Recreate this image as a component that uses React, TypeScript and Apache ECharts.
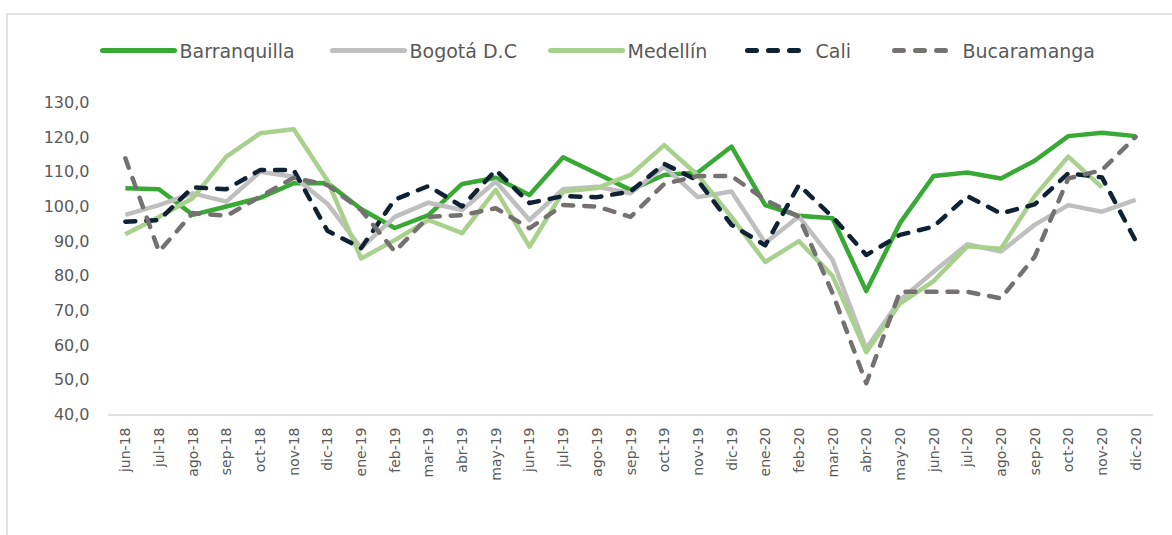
import { useEffect, useRef } from "react";
import * as echarts from "echarts";

const months = [
  "jun-18", "jul-18", "ago-18", "sep-18", "oct-18", "nov-18", "dic-18",
  "ene-19", "feb-19", "mar-19", "abr-19", "may-19", "jun-19", "jul-19",
  "ago-19", "sep-19", "oct-19", "nov-19", "dic-19", "ene-20", "feb-20",
  "mar-20", "abr-20", "may-20", "jun-20", "jul-20", "ago-20", "sep-20",
  "oct-20", "nov-20", "dic-20",
];

const barranquilla = [
  105.3, 105.0, 97.6, 100.0, 102.5, 106.7, 106.8, 99.3, 93.8, 97.5, 106.5,
  108.3, 103.3, 114.2, 109.5, 104.8, 109.1, 109.8, 117.3, 100.4, 97.3, 96.6,
  75.6, 95.2, 108.8, 109.8, 108.1, 113.2, 120.3, 121.3, 120.3,
];
const bogota = [
  97.6, 100.4, 103.8, 101.4, 110.0, 108.6, 100.8, 88.0, 97.0, 101.1, 99.0,
  107.2, 96.1, 105.0, 105.7, 103.8, 111.5, 102.7, 104.3, 89.5, 97.1, 84.6,
  59.0, 73.0, 81.2, 89.1, 87.0, 94.7, 100.4, 98.5, 101.9,
];
const medellin = [
  92.0, 97.0, 102.4, 114.4, 121.1, 122.3, 107.5, 85.0, 90.3, 96.1, 92.3,
  104.8, 88.4, 104.3, 105.3, 109.1, 117.7, 109.0, 97.0, 84.0, 90.0, 80.0,
  58.0, 72.0, 78.5, 88.5, 87.8, 103.0, 114.4, 105.5, null,
];
const cali = [
  95.6, 96.1, 105.5, 105.0, 110.5, 110.5, 93.0, 88.0, 102.0, 105.9, 100.0,
  110.5, 101.0, 103.0, 102.7, 104.3, 112.3, 107.5, 94.7, 88.8, 106.2, 97.0,
  86.0, 91.8, 94.2, 103.0, 98.0, 100.6, 109.6, 108.4, 90.1,
];
const bucaramanga = [
  113.9, 87.0, 98.1, 97.3, 102.8, 108.3, 106.2, 99.0, 87.0, 97.0, 97.5,
  99.5, 93.7, 100.4, 100.0, 97.0, 106.5, 108.8, 108.8, 101.9, 97.0, 75.0,
  49.0, 75.4, 75.4, 75.4, 73.5, 85.5, 108.1, 110.5, 120.1,
];

const seriesNames = ["Barranquilla", "Bogotá D.C", "Medellín", "Cali", "Bucaramanga"];
const seriesColors = ["#38A935", "#BFBFBF", "#A9D18E", "#0E2233", "#767171"];
const seriesDashed = [false, false, false, true, true];
const seriesData = [barranquilla, bogota, medellin, cali, bucaramanga];
const legendLefts = [100, 330, 548, 745, 892];
const legendWidths = [72, 72, 72, 63, 63];

export default function App() {
  const ref = useRef<HTMLDivElement>(null);
  useEffect(() => {
    if (!ref.current) return;
    const chart = echarts.init(ref.current, undefined, { renderer: "svg" });
    const font = "DejaVu Sans";
    chart.setOption({
      animation: false,
      backgroundColor: "#ffffff",
      textStyle: { fontFamily: font },
      graphic: [
        {
          type: "rect",
          shape: { x: 7, y: 14, width: 1300, height: 700 },
          style: { fill: "none", stroke: "#D9D9D9", lineWidth: 1.5 },
          silent: true,
        },
      ],
      legend: seriesNames.map((n, i) => ({
        data: [n],
        left: legendLefts[i],
        top: 41,
        padding: 0,
        itemWidth: legendWidths[i],
        itemHeight: 20,
        itemStyle: { opacity: 0 },
        lineStyle: {
          width: 5,
          color: seriesColors[i],
          type: seriesDashed[i] ? [9, 12] : "solid",
          cap: "round",
        },
        textStyle: { color: "#595959", fontSize: 19, fontFamily: font },
        selectedMode: false,
      })),
      grid: { left: 108.5, right: 19.5, top: 102.5, bottom: 120.5 },
      xAxis: {
        type: "category",
        data: months,
        boundaryGap: true,
        axisLine: { lineStyle: { color: "#D9D9D9", width: 1.5 } },
        axisTick: { show: false },
        axisLabel: {
          rotate: 90,
          interval: 0,
          margin: 13,
          color: "#595959",
          fontSize: 14,
          fontFamily: font,
        },
      },
      yAxis: {
        type: "value",
        min: 40,
        max: 130,
        interval: 10,
        splitLine: { show: false },
        axisLine: { show: false },
        axisTick: { show: false },
        axisLabel: {
          margin: 19,
          color: "#595959",
          fontSize: 16,
          fontFamily: font,
          formatter: (v: number) => v.toFixed(1).replace(".", ","),
        },
      },
      series: seriesNames.map((n, i) => ({
        name: n,
        type: "line",
        data: seriesData[i],
        symbol: "none",
        showSymbol: false,
        smooth: false,
        connectNulls: false,
        color: seriesColors[i],
        itemStyle: { color: seriesColors[i] },
        lineStyle: {
          color: seriesColors[i],
          width: 4.5,
          type: seriesDashed[i] ? [10, 11] : "solid",
          cap: seriesDashed[i] ? "round" : "butt",
          join: "round",
        },
      })),
    });
    return () => chart.dispose();
  }, []);
  return (
    <div
      ref={ref}
      style={{ position: "fixed", left: 0, top: 0, width: 1172, height: 535 }}
    />
  );
}
